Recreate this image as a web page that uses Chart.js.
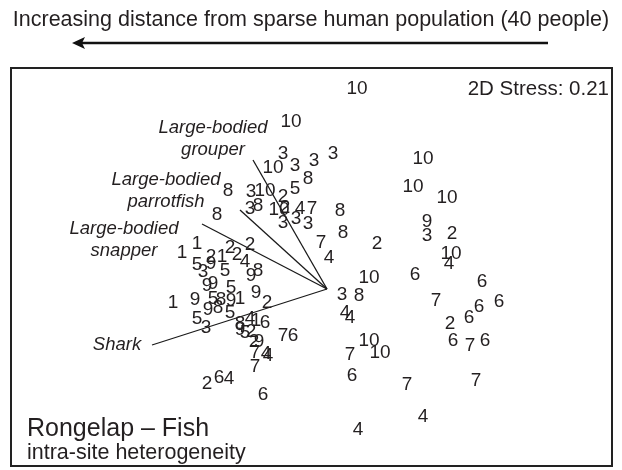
<!DOCTYPE html>
<html>
<head>
<meta charset="utf-8">
<script src="https://cdn.jsdelivr.net/npm/chart.js@4/dist/chart.umd.min.js"></script>
<style>
  body { margin: 0; background: #fff; }
  #wrap { width: 622px; height: 470px; }
</style>
</head>
<body>
<div id="wrap"><canvas id="nmds" width="622" height="470"></canvas></div>
<script>
// site number shown at each sample position (NMDS ordination)
const siteLabels = [
  "10","10","3","10","3","3","3","8","8","3","10","2","5","8","3","8","10","2","4","7",
  "8","3","3","3","8","7","4","2","10","10","10","9","3","2","10","4","6","10","6","3",
  "8","7","6","6","4","4","6","2","10","10","7","6","7","6","6","7","7","4","4",
  "1","1","2","1","2","2","2","4","5","3","9","5","9","8","9","9","5","9","2","1",
  "9","5","8","9","1","9","8","5","5","3","8","4","1","6","9","5","2","2","9","7",
  "6","7","4","4","7","2","6","4","6"
];
const nmds1 = [
  0.30,-0.36,-0.44,-0.54,-0.32,-0.13,0.06,-0.19,-0.99,-0.76,-0.62,-0.44,-0.32,-1.10,-0.77,-0.69,-0.48,-0.42,-0.27,-0.15,
  0.13,-0.44,-0.31,-0.19,0.16,-0.06,0.02,0.50,0.96,0.86,1.20,1.00,1.00,1.25,1.24,1.22,0.88,0.42,1.55,0.15,
  0.32,1.09,1.72,1.52,0.18,0.23,1.42,1.23,0.42,0.53,0.23,1.26,1.43,1.58,0.25,0.80,1.49,0.96,0.31,
  -1.45,-1.30,-1.16,-1.05,-0.97,-0.90,-0.77,-0.82,-1.30,-1.24,-1.16,-1.02,-0.76,-0.69,-1.20,-1.14,-0.96,-0.71,-0.60,-1.54,
  -1.32,-1.14,-1.06,-0.96,-0.87,-1.19,-1.09,-0.97,-1.30,-1.21,-0.87,-0.77,-0.71,-0.62,-0.87,-0.82,-0.76,-0.73,-0.68,-0.44,
  -0.34,-0.72,-0.61,-0.59,-0.72,-1.20,-1.08,-0.98,-0.64
];
const nmds2 = [
  2.01,1.68,1.36,1.22,1.24,1.29,1.36,1.11,0.99,0.98,0.99,0.93,1.01,0.75,0.81,0.84,0.80,0.82,0.81,0.81,
  0.79,0.67,0.71,0.66,0.57,0.47,0.32,0.46,1.31,1.03,0.92,0.68,0.54,0.56,0.36,0.26,0.15,0.12,0.08,-0.05,
  -0.06,-0.11,-0.12,-0.17,-0.23,-0.28,-0.28,-0.34,-0.51,-0.63,-0.65,-0.51,-0.56,-0.51,-0.86,-0.95,-0.91,-1.27,-1.40,
  0.37,0.46,0.33,0.33,0.42,0.35,0.45,0.28,0.25,0.18,0.26,0.19,0.14,0.19,0.04,0.06,0.02,-0.03,-0.13,-0.13,
  -0.10,-0.09,-0.10,-0.11,-0.09,-0.20,-0.18,-0.23,-0.29,-0.38,-0.34,-0.29,-0.31,-0.33,-0.40,-0.43,-0.42,-0.52,-0.52,-0.46,
  -0.46,-0.63,-0.64,-0.66,-0.77,-0.94,-0.88,-0.89,-1.05
];

// species vectors drawn from the origin
const vecNames = [["Large-bodied", "grouper"], ["Large-bodied", "parrotfish"], ["Large-bodied", "snapper"], ["Shark"]];
const vecX = [-0.74, -0.87, -1.25, -1.75];
const vecY = [1.29, 0.79, 0.65, -0.56];
const vecLabelX = [-1.14, -1.61, -2.03, -2.10];
const vecLabelY = [1.50, 0.98, 0.49, -0.56];

const stressText = "2D Stress: 0.21";
const titleText = "Increasing distance from sparse human population (40 people)";
const panelTitle = "Rongelap \u2013 Fish";
const panelSub = "intra-site heterogeneity";

const ink = "#231f20";
const fontFam = "'Liberation Sans', Arial, Helvetica, sans-serif";

const datasets = [{
  label: "sites",
  data: nmds1.map((x, i) => ({ x: x, y: nmds2[i] })),
  pointRadius: 0,
  showLine: false
}];
vecX.forEach((vx, i) => {
  datasets.push({
    label: "vec" + i,
    data: [{ x: 0, y: 0 }, { x: vx, y: vecY[i] }],
    showLine: true,
    borderColor: "#1a1a1a",
    borderWidth: 1.3,
    pointRadius: 0
  });
});

const decorations = {
  id: "decorations",
  afterDatasetsDraw(chart) {
    const ctx = chart.ctx;
    const area = chart.chartArea;
    const xs = chart.scales.x, ys = chart.scales.y;
    ctx.save();
    ctx.fillStyle = ink;

    // site numbers
    ctx.font = "19px " + fontFam;
    ctx.textAlign = "center";
    ctx.textBaseline = "middle";
    chart.getDatasetMeta(0).data.forEach((pt, i) => {
      ctx.fillText(siteLabels[i], pt.x, pt.y + 1);
    });

    // vector names
    ctx.font = "italic 18.5px " + fontFam;
    vecNames.forEach((lines, i) => {
      const px = xs.getPixelForValue(vecLabelX[i]);
      const py = ys.getPixelForValue(vecLabelY[i]);
      const off = (lines.length - 1) * 11;
      lines.forEach((t, j) => ctx.fillText(t, px, py - off + j * 22));
    });

    // stress
    ctx.font = "20.5px " + fontFam;
    ctx.textAlign = "right";
    ctx.fillText(stressText, area.right - 3, area.top + 21);

    // panel title
    ctx.textAlign = "left";
    ctx.textBaseline = "alphabetic";
    ctx.font = "25px " + fontFam;
    ctx.fillText(panelTitle, area.left + 16, area.top + 368);
    ctx.font = "21.5px " + fontFam;
    ctx.fillText(panelSub, area.left + 16, area.top + 391);

    // frame
    ctx.strokeStyle = "#222";
    ctx.lineWidth = 2;
    ctx.strokeRect(area.left, area.top, area.right - area.left, area.bottom - area.top);

    // header text and arrow
    ctx.textAlign = "center";
    ctx.textBaseline = "middle";
    ctx.font = "21.5px " + fontFam;
    ctx.fillText(titleText, 311, 20);
    ctx.strokeStyle = "#111";
    ctx.lineWidth = 2.5;
    ctx.beginPath();
    ctx.moveTo(548, 43);
    ctx.lineTo(80, 43);
    ctx.stroke();
    ctx.fillStyle = "#111";
    ctx.beginPath();
    ctx.moveTo(72, 43);
    ctx.lineTo(85, 37);
    ctx.lineTo(82, 43);
    ctx.lineTo(85, 49);
    ctx.closePath();
    ctx.fill();
    ctx.restore();
  }
};

new Chart(document.getElementById("nmds"), {
  type: "scatter",
  data: { datasets: datasets },
  options: {
    responsive: false,
    animation: false,
    events: [],
    layout: { padding: { left: 11, top: 68, right: 10, bottom: 4 } },
    plugins: { legend: { display: false }, tooltip: { enabled: false } },
    scales: {
      x: { type: "linear", min: -3.16, max: 2.85, display: false },
      y: { type: "linear", min: -1.77, max: 2.21, display: false }
    }
  },
  plugins: [decorations]
});
</script>
</body>
</html>
